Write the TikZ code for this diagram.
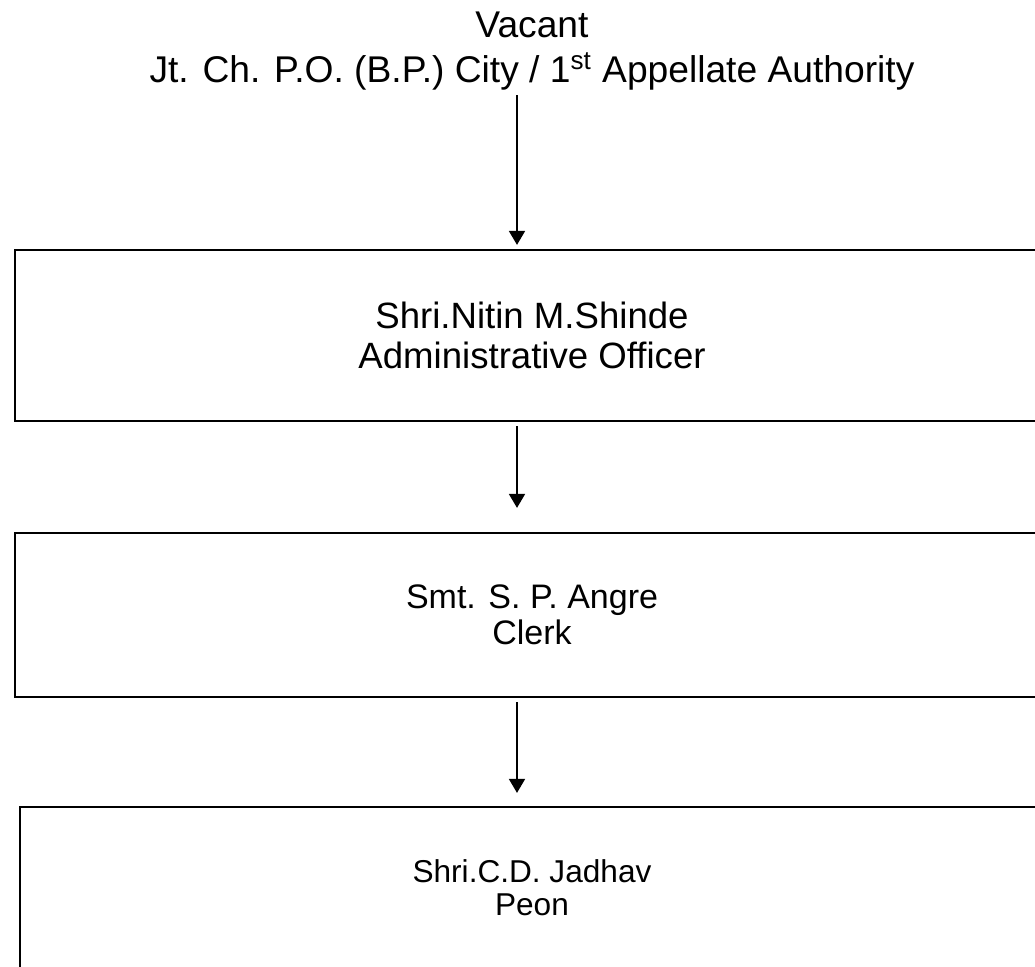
\documentclass[tikz,border=0pt]{standalone}
\usepackage{fontspec}
\setmainfont{Liberation Sans}
\usetikzlibrary{positioning,arrows.meta}
\tikzset{
    >={Triangle[width=8pt,length=7pt]},
    postbox/.style={
        rectangle,
        draw=black, line width=1.1pt,
        minimum width=517pt,
        align=center,
        inner sep=0pt
    },
    link/.style={draw, line width=0.9pt, ->, shorten <=2pt},
    headtext/.style={align=center, font=\fontsize{18.6pt}{22.5pt}\selectfont}
}

\begin{document}
\begin{tikzpicture}[x=0.5pt, y=-0.5pt]
  \path[use as bounding box, clip] (0,0) rectangle (1035,967);
  \node[headtext] (head) at (532,51) {Vacant\\Jt. Ch. P.O. (B.P.) City / 1\textsuperscript{st} Appellate Authority};
  \node[postbox, minimum height=85.5pt, font=\fontsize{18.3pt}{20pt}\selectfont] (officer) at (532,335.5) {Shri.Nitin M.Shinde\\Administrative Officer};
  \node[postbox, minimum height=82pt, font=\fontsize{17pt}{18pt}\selectfont] (clerk) at (532,615) {Smt. S. P. Angre\\Clerk};
  \node[postbox, minimum height=81pt, minimum width=512pt, font=\fontsize{15.8pt}{16.5pt}\selectfont] (peon) at (532,888) {Shri.C.D. Jadhav\\Peon};
  \draw[link, shorten <=-1pt, shorten >=2pt] ([xshift=-7.5pt]head.south) -- ([xshift=-7.5pt]officer.north);
  \draw[link, shorten >=12pt] ([xshift=-7.5pt]officer.south) -- ([xshift=-7.5pt]clerk.north);
  \draw[link, shorten >=6.5pt] ([xshift=-7.5pt]clerk.south) -- ([xshift=-7.5pt]peon.north);
\end{tikzpicture}
\end{document}
